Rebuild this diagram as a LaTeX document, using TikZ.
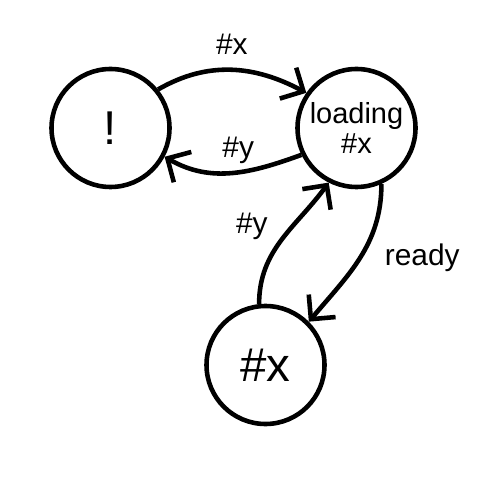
\documentclass[tikz,border=0pt]{standalone}
\usepackage{fontspec}
\setmainfont{Liberation Sans}
\usetikzlibrary{positioning,arrows.meta}

\begin{document}
\begin{tikzpicture}[->,>={Straight Barb[length=3.5mm,width=7mm]},auto,node distance=4.92cm,
  line width=2.6pt,
  state node/.style={circle,draw,minimum size=2.36cm,inner sep=0pt,align=center,
    font=\fontsize{16.5}{17}\selectfont},
  big text/.style={font=\fontsize{27}{30}\selectfont}]

  \useasboundingbox (-2.21,2.56) rectangle (7.79,-7.44);

  \node[state node,big text] (bang) {!};
  \node[state node] (load) [right of=bang] {loading\\\#x};
  \node[state node,big text] (hx) [below of=load,node distance=4.74cm,xshift=-1.82cm] {\#x};

  \path[every node/.style={font=\fontsize{17}{18}\selectfont}]
    (bang.39) edge[out=30,in=152] node[above=4pt] {\#x} (load.145)
    (load.206) edge[out=200,in=-30] node[above,pos=0.45] {\#y} (bang.-28)
    (hx.96) edge[out=90,in=234] node[pos=0.42] {\#y} (load.243)
    (load.294) edge[out=-90,in=50] node[pos=0.33,xshift=3pt] {ready} (hx.45);
\end{tikzpicture}
\end{document}
